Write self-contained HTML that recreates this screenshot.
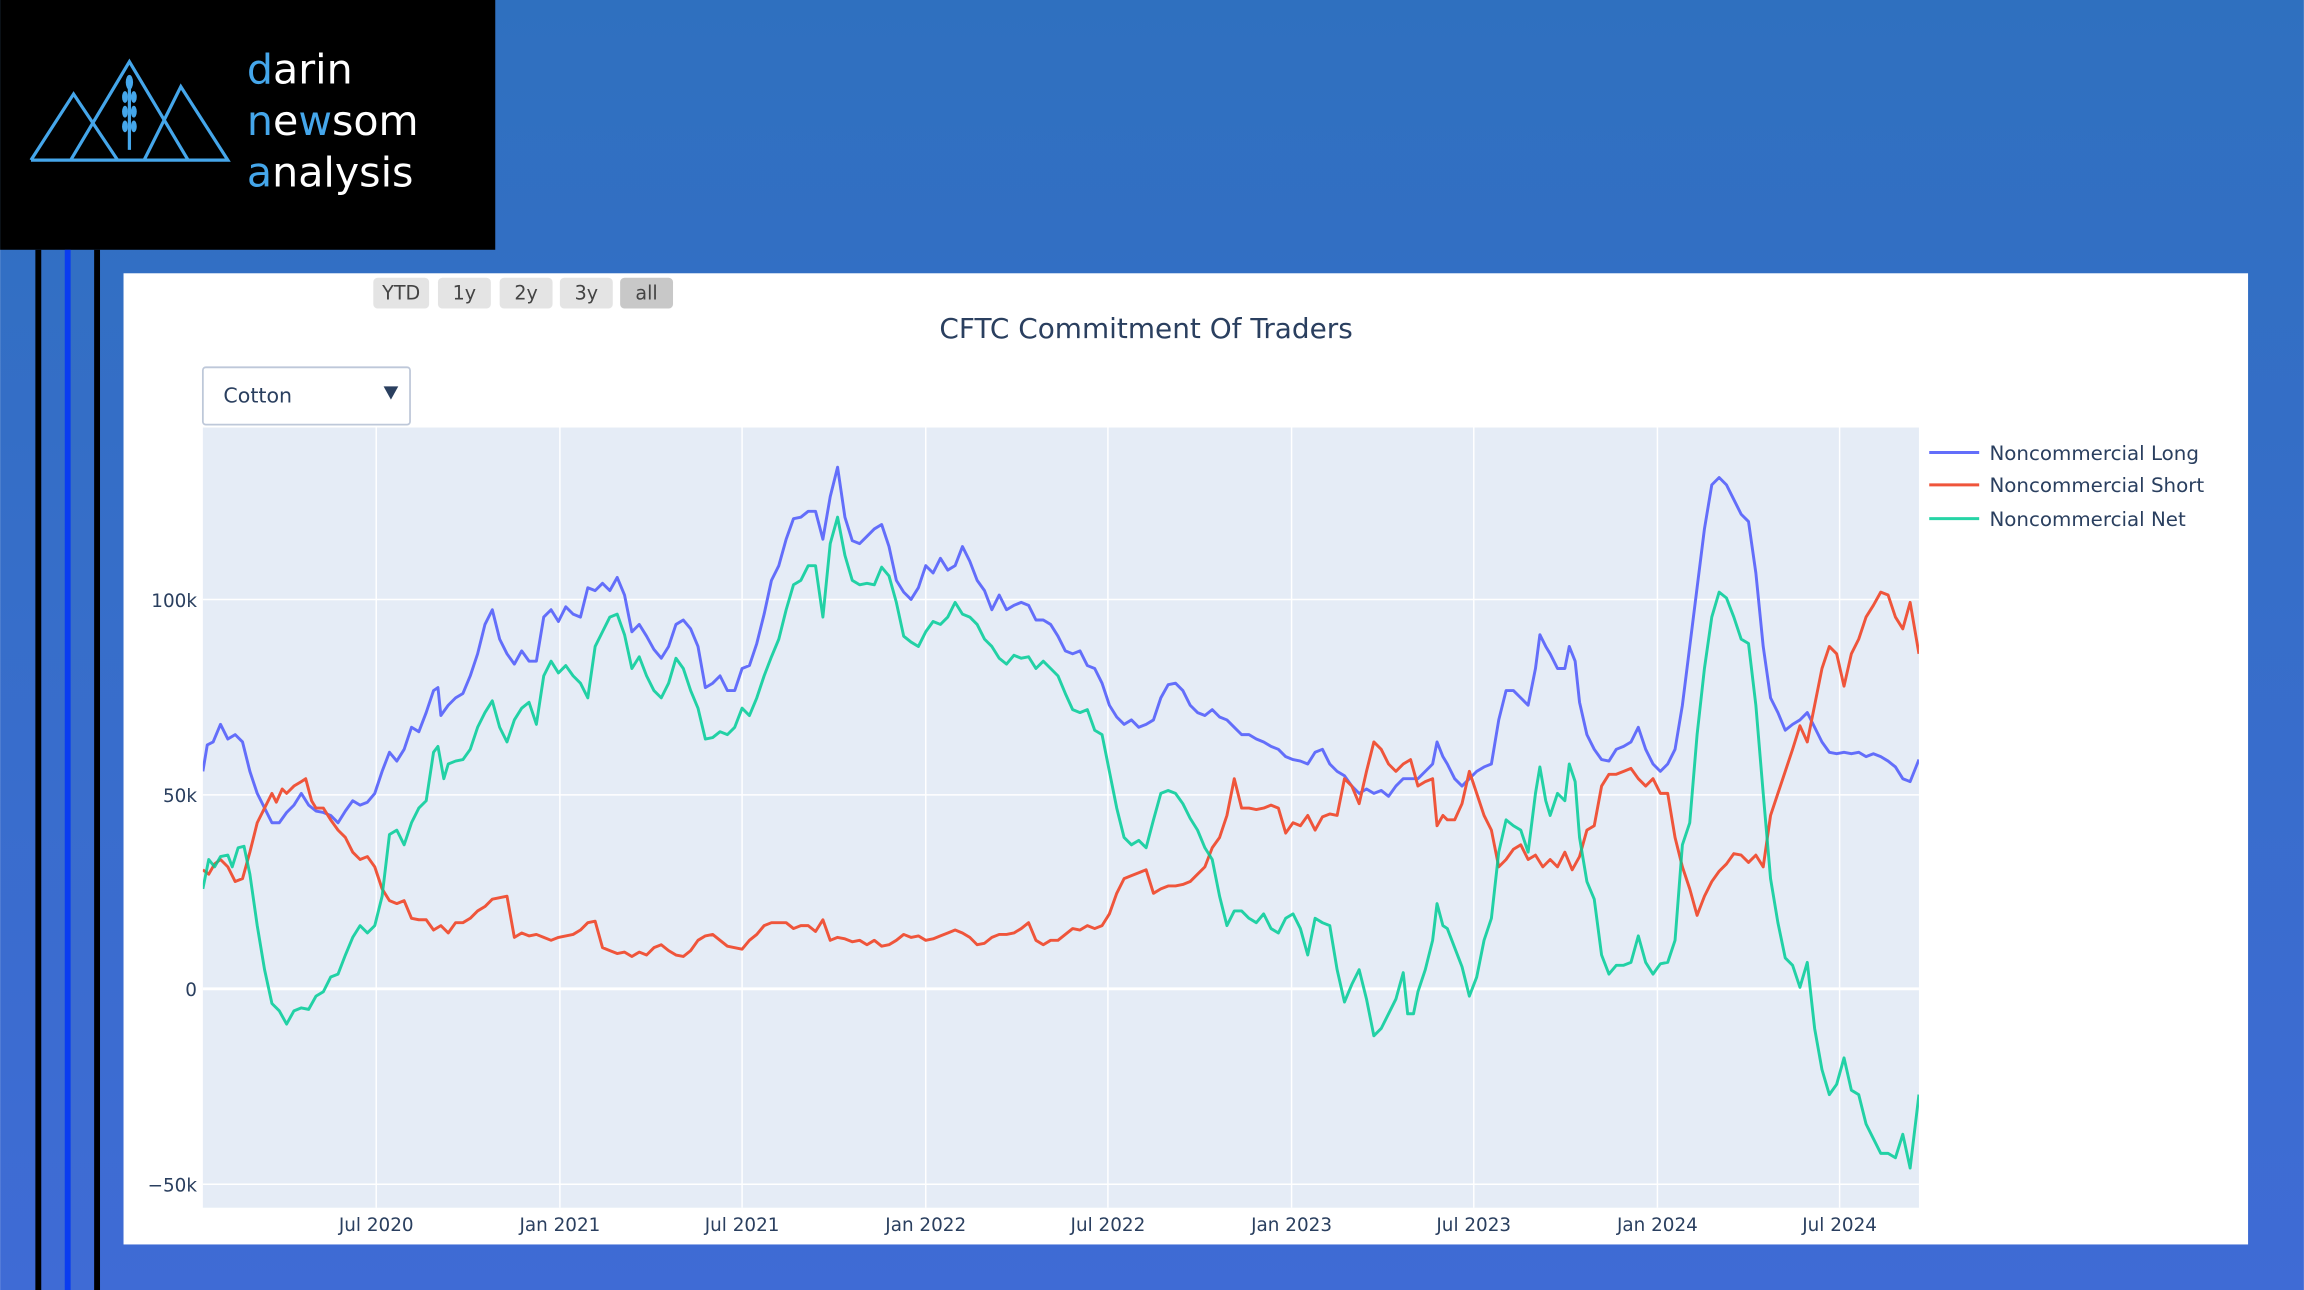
<!DOCTYPE html>
<html><head><meta charset="utf-8"><style>
html,body{margin:0;padding:0;width:2304px;height:1290px;overflow:hidden}
svg{display:block}
text{font-family:"DejaVu Sans","Liberation Sans",sans-serif}
</style></head><body>
<svg width="2304" height="1290" viewBox="0 0 1568 878" xmlns="http://www.w3.org/2000/svg">
<defs><linearGradient id="bg" x1="0" y1="0" x2="0" y2="1"><stop offset="0" stop-color="#2f70bf"/><stop offset="1" stop-color="#3f6bd5"/></linearGradient>
<clipPath id="pc"><rect x="138" y="291" width="1168" height="531"/></clipPath></defs>
<rect width="1568" height="878" fill="url(#bg)"/>
<rect x="0" y="0" width="337" height="170" fill="#000"/>
<rect x="24" y="170" width="4" height="708" fill="#000"/>
<rect x="44" y="170" width="4" height="708" fill="#0a3cf0"/>
<rect x="64" y="170" width="4" height="708" fill="#000"/>
<g fill="none" stroke="#45a6ea" stroke-width="2.2">
<polygon points="21,109 155,109 123,59 98,109 "/>
<polyline points="21,109 50,64 80,109"/>
<polyline points="48,109 88,42 128,109"/>
<polyline points="88,102 88,52"/>
</g>
<g fill="#45a6ea"><ellipse cx="88" cy="56" rx="2.5" ry="5"/><ellipse cx="85" cy="66" rx="2" ry="4"/><ellipse cx="91" cy="66" rx="2" ry="4"/><ellipse cx="85" cy="76" rx="2" ry="4"/><ellipse cx="91" cy="76" rx="2" ry="4"/><ellipse cx="85" cy="86" rx="2" ry="4"/><ellipse cx="91" cy="86" rx="2" ry="4"/></g>
<g font-size="28" fill="#fff" style="font-family:'DejaVu Sans','Liberation Sans',sans-serif">
<text x="168" y="57"><tspan fill="#45a6ea">d</tspan>arin</text>
<text x="168" y="92"><tspan fill="#45a6ea">n</tspan>e<tspan fill="#45a6ea">w</tspan>som</text>
<text x="168" y="127"><tspan fill="#45a6ea">a</tspan>nalysis</text></g>
<rect x="84" y="186" width="1446" height="661" fill="#fff"/>
<g font-size="13" fill="#444" text-anchor="middle">
<rect x="254" y="189" width="38" height="21" rx="3" fill="#e4e4e4"/><text x="273" y="204">YTD</text>
<rect x="298" y="189" width="36" height="21" rx="3" fill="#e4e4e4"/><text x="316" y="204">1y</text>
<rect x="340" y="189" width="36" height="21" rx="3" fill="#e4e4e4"/><text x="358" y="204">2y</text>
<rect x="381" y="189" width="36" height="21" rx="3" fill="#e4e4e4"/><text x="399" y="204">3y</text>
<rect x="422" y="189" width="36" height="21" rx="3" fill="#c8c8c8"/><text x="440" y="204">all</text></g>
<text x="780" y="230" font-size="19" fill="#2a3f5f" text-anchor="middle">CFTC Commitment Of Traders</text>
<rect x="138" y="250" width="141" height="39" rx="2" fill="#fff" stroke="#bec8d9" stroke-width="1.2"/>
<text x="152" y="274" font-size="14" fill="#2a3f5f">Cotton</text>
<polygon points="261,263 271,263 266,272" fill="#2a3f5f"/>
<rect x="138" y="291" width="1168" height="531" fill="#e5ecf6"/>
<g stroke="#fff" stroke-width="1">
<line x1="256" y1="291" x2="256" y2="822"/><line x1="381" y1="291" x2="381" y2="822"/><line x1="505" y1="291" x2="505" y2="822"/><line x1="630" y1="291" x2="630" y2="822"/><line x1="754" y1="291" x2="754" y2="822"/><line x1="879" y1="291" x2="879" y2="822"/><line x1="1003" y1="291" x2="1003" y2="822"/><line x1="1128" y1="291" x2="1128" y2="822"/><line x1="1252" y1="291" x2="1252" y2="822"/>
<line x1="138" y1="408" x2="1306" y2="408"/><line x1="138" y1="541" x2="1306" y2="541"/><line x1="138" y1="806" x2="1306" y2="806"/>
<line x1="138" y1="673" x2="1306" y2="673" stroke-width="2"/></g>
<g font-size="12.5" fill="#2a3f5f" text-anchor="end">
<text x="134" y="413">100k</text><text x="134" y="546">50k</text><text x="134" y="678">0</text><text x="134" y="811">−50k</text></g>
<g font-size="12.5" fill="#2a3f5f" text-anchor="middle">
<text x="256" y="838">Jul 2020</text><text x="381" y="838">Jan 2021</text><text x="505" y="838">Jul 2021</text><text x="630" y="838">Jan 2022</text><text x="754" y="838">Jul 2022</text><text x="879" y="838">Jan 2023</text><text x="1003" y="838">Jul 2023</text><text x="1128" y="838">Jan 2024</text><text x="1252" y="838">Jul 2024</text></g>
<g clip-path="url(#pc)" fill="none" stroke-width="2" stroke-linejoin="round">
<polyline stroke="#636efa" points="138,525 141,507 145,505 150,493 155,503 160,500 165,505 170,525 175,540 180,550 185,560 190,560 195,553 200,548 205,540 210,548 215,552 220,553 225,555 230,560 235,552 240,545 245,548 250,546 255,540 260,525 265,512 270,518 275,510 280,495 285,498 290,485 295,470 298,468 300,487 305,480 310,475 315,472 320,460 325,445 330,425 335,415 340,435 345,445 350,452 355,443 360,450 365,450 370,420 375,415 380,423 385,413 390,418 395,420 400,400 405,402 410,397 415,402 420,393 425,405 430,430 435,425 440,433 445,442 450,448 455,440 460,425 465,422 470,428 475,440 480,468 485,465 490,460 495,470 500,470 505,455 510,453 515,438 520,418 525,395 530,385 535,367 540,353 545,352 550,348 555,348 560,367 565,338 570,318 575,352 580,368 585,370 590,365 595,360 600,357 605,372 610,395 615,403 620,408 625,400 630,385 635,390 640,380 645,388 650,385 655,372 660,382 665,395 670,402 675,415 680,405 685,415 690,412 695,410 700,412 705,422 710,422 715,425 720,433 725,443 730,445 735,443 740,453 745,455 750,465 755,480 760,488 765,493 770,490 775,495 780,493 785,490 790,475 795,466 800,465 805,470 810,480 815,485 820,487 825,483 830,488 835,490 840,495 845,500 850,500 855,503 860,505 865,508 870,510 875,515 880,517 885,518 890,520 895,512 900,510 905,520 910,525 915,528 920,535 925,540 930,537 935,540 940,538 945,542 950,535 955,530 960,530 965,530 970,525 975,520 978,505 982,515 985,520 990,530 995,535 1000,530 1005,525 1010,522 1015,520 1020,490 1025,470 1030,470 1035,475 1040,480 1045,455 1048,432 1052,440 1055,445 1060,455 1065,455 1068,440 1072,450 1075,478 1080,500 1085,510 1090,517 1095,518 1100,510 1105,508 1110,505 1115,495 1120,510 1125,520 1130,525 1135,520 1140,510 1145,480 1150,440 1155,400 1160,360 1165,330 1170,325 1175,330 1180,340 1185,350 1190,355 1195,390 1200,440 1205,475 1210,485 1215,497 1220,493 1225,490 1230,485 1235,495 1240,505 1245,512 1250,513 1255,512 1260,513 1265,512 1270,515 1275,513 1280,515 1285,518 1290,522 1295,530 1300,532 1306,517"/>
<polyline stroke="#EF553B" points="138,592 142,595 146,588 150,585 155,590 160,600 165,598 170,580 175,560 180,550 185,540 188,546 192,537 195,540 200,535 205,532 208,530 212,545 215,550 220,550 225,558 230,565 235,570 240,580 245,585 250,583 255,590 260,605 265,613 270,615 275,613 280,625 285,626 290,626 295,633 300,630 305,635 310,628 315,628 320,625 325,620 330,617 335,612 340,611 345,610 350,638 355,635 360,637 365,636 370,638 375,640 380,638 385,637 390,636 395,633 400,628 405,627 410,645 415,647 420,649 425,648 430,651 435,648 440,650 445,645 450,643 455,647 460,650 465,651 470,647 475,640 480,637 485,636 490,640 495,644 500,645 505,646 510,640 515,636 520,630 525,628 530,628 535,628 540,632 545,630 550,630 555,634 560,626 565,640 570,638 575,639 580,641 585,640 590,643 595,640 600,644 605,643 610,640 615,636 620,638 625,637 630,640 635,639 640,637 645,635 650,633 655,635 660,638 665,643 670,642 675,638 680,636 685,636 690,635 695,632 700,628 705,640 710,643 715,640 720,640 725,636 730,632 735,633 740,630 745,632 750,630 755,622 760,608 765,598 770,596 775,594 780,592 785,608 790,605 795,603 800,603 805,602 810,600 815,595 820,590 825,577 830,570 835,555 840,530 845,550 850,550 855,551 860,550 865,548 870,550 875,567 880,560 885,562 890,555 895,565 900,556 905,554 910,555 915,530 920,535 925,547 930,525 935,505 940,510 945,520 950,525 955,520 960,517 965,535 970,532 975,530 978,562 982,555 985,558 990,558 995,547 1000,525 1005,540 1010,555 1015,565 1020,590 1025,585 1030,578 1035,575 1040,585 1045,582 1050,590 1055,585 1060,590 1065,580 1070,592 1075,583 1080,565 1085,562 1090,535 1095,527 1100,527 1105,525 1110,523 1115,530 1120,535 1125,530 1130,540 1135,540 1140,570 1145,590 1150,605 1155,623 1160,610 1165,600 1170,593 1175,588 1180,581 1185,582 1190,587 1195,582 1200,590 1205,555 1210,540 1215,525 1220,510 1225,494 1230,505 1235,480 1240,455 1245,440 1250,445 1255,467 1260,445 1265,435 1270,420 1275,412 1280,403 1285,405 1290,420 1295,428 1300,410 1306,445"/>
<polyline stroke="#00cc96" stroke-opacity="0.85" points="138,605 142,585 146,590 150,583 155,582 158,590 162,577 166,576 170,595 175,630 180,660 185,683 190,688 195,697 200,688 205,686 210,687 215,678 220,675 225,665 230,663 235,650 240,638 245,630 250,635 255,630 260,610 265,568 270,565 275,575 280,560 285,550 290,545 295,512 298,508 302,530 305,520 310,518 315,517 320,510 325,495 330,485 335,477 340,495 345,505 350,490 355,482 360,478 365,493 370,460 375,450 380,458 385,453 390,460 395,465 400,475 405,440 410,430 415,420 420,418 425,432 430,455 435,447 440,460 445,470 450,475 455,465 460,448 465,455 470,470 475,482 480,503 485,502 490,498 495,500 500,495 505,482 510,487 515,475 520,460 525,447 530,435 535,415 540,398 545,395 550,385 555,385 560,420 565,370 570,352 575,378 580,395 585,398 590,397 595,398 600,386 605,392 610,410 615,433 620,437 625,440 630,430 635,423 640,425 645,420 650,410 655,418 660,420 665,425 670,435 675,440 680,448 685,452 690,446 695,448 700,447 705,455 710,450 715,455 720,460 725,472 730,483 735,485 740,483 745,497 750,500 755,525 760,550 765,570 770,575 775,572 780,577 785,558 790,540 795,538 800,540 805,547 810,557 815,565 820,577 825,585 830,610 835,630 840,620 845,620 850,625 855,628 860,622 865,632 870,635 875,625 880,622 885,632 890,650 895,625 900,628 905,630 910,660 915,682 920,670 925,660 930,680 935,705 940,700 945,690 950,680 955,662 958,690 962,690 965,675 970,660 975,640 978,615 982,630 985,632 990,645 995,658 1000,678 1005,665 1010,640 1015,625 1020,580 1025,558 1030,562 1035,565 1040,580 1045,540 1048,522 1052,545 1055,555 1060,540 1065,545 1068,520 1072,532 1075,570 1080,600 1085,612 1090,650 1095,663 1100,657 1105,657 1110,655 1115,637 1120,655 1125,663 1130,656 1135,655 1140,640 1145,575 1150,560 1155,500 1160,455 1165,420 1170,403 1175,407 1180,420 1185,435 1190,438 1195,480 1200,540 1205,598 1210,628 1215,652 1220,657 1225,672 1230,655 1235,700 1240,728 1245,745 1250,738 1255,720 1260,742 1265,745 1270,765 1275,775 1280,785 1285,785 1290,788 1295,772 1300,795 1306,745"/>
</g>
<g stroke-width="2"><line x1="1313" y1="308" x2="1347" y2="308" stroke="#636efa"/><line x1="1313" y1="330" x2="1347" y2="330" stroke="#EF553B"/><line x1="1313" y1="353" x2="1347" y2="353" stroke="#00cc96" stroke-opacity="0.85"/></g>
<g font-size="13.5" fill="#2a3f5f"><text x="1354" y="313">Noncommercial Long</text><text x="1354" y="335">Noncommercial Short</text><text x="1354" y="358">Noncommercial Net</text></g>
</svg>
</body></html>
